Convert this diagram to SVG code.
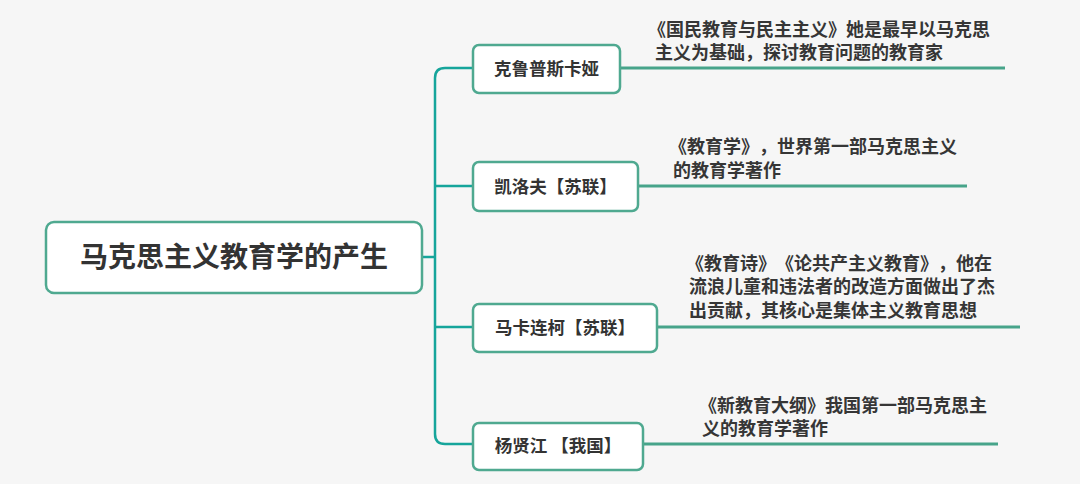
<svg xmlns="http://www.w3.org/2000/svg" width="1080" height="484" viewBox="0 0 1080 484">
<style>
.bg{fill:#f6f6f6}
.box{fill:#ffffff;stroke:#4fa990;stroke-width:2.5}
.trunk{fill:none;stroke:#16a59b;stroke-width:2.5}
.uline{fill:none;stroke:#47a48a;stroke-width:3}
text{text-spacing-trim:space-all}
.title{font-family:"Noto Sans CJK SC","Noto Sans",sans-serif;font-size:28px;font-weight:bold;fill:#333333}
.lbl{font-family:"Noto Sans CJK SC","Noto Sans",sans-serif;font-size:17.5px;font-weight:bold;fill:#333333}
.desc{font-family:"Noto Sans CJK SC","Noto Sans",sans-serif;font-size:18px;font-weight:bold;fill:#363636}
</style>
<rect class="bg" x="0" y="0" width="1080" height="484"/>
<g id="connectors">
<path class="trunk" d="M422,257 H435"/>
<path class="trunk" d="M473,68 H445 Q435,68 435,78 V434 Q435,444 445,444 H473"/>
<path class="trunk" d="M435,186 H473"/>
<path class="trunk" d="M435,327 H473"/>
<path class="uline" d="M620,68 H1005"/>
<path class="uline" d="M638,186 H967"/>
<path class="uline" d="M657,327 H1020"/>
<path class="uline" d="M643,444 H998"/>
</g>
<g id="root">
<rect class="box" x="46" y="222" width="376" height="71" rx="8"/>
<text class="title" x="234" y="267" text-anchor="middle">马克思主义教育学的产生</text>
</g>
<g id="n1">
<rect class="box" x="473" y="45" width="147" height="48" rx="6"/>
<text class="lbl" x="546.5" y="75" text-anchor="middle">克鲁普斯卡娅</text>
<text class="desc"><tspan x="648" y="36">《国民教育与民主主义》她是最早以马克思</tspan><tspan x="655" y="59">主义为基础，探讨教育问题的教育家</tspan></text>
</g>
<g id="n2">
<rect class="box" x="473" y="162" width="165" height="49" rx="6"/>
<text class="lbl" x="555.5" y="193" text-anchor="middle">凯洛夫【苏联】</text>
<text class="desc"><tspan x="669" y="153">《教育学》，世界第一部马克思主义</tspan><tspan x="673" y="177">的教育学著作</tspan></text>
</g>
<g id="n3">
<rect class="box" x="473" y="304" width="184" height="48" rx="6"/>
<text class="lbl" x="565" y="334" text-anchor="middle">马卡连柯【苏联】</text>
<text class="desc"><tspan x="686" y="270">《教育诗》《论共产主义教育》，他在</tspan><tspan x="689" y="293">流浪儿童和违法者的改造方面做出了杰</tspan><tspan x="689" y="317">出贡献，其核心是集体主义教育思想</tspan></text>
</g>
<g id="n4">
<rect class="box" x="473" y="423" width="170" height="47" rx="6"/>
<text class="lbl" x="558" y="452" text-anchor="middle">杨贤江 【我国】</text>
<text class="desc"><tspan x="699" y="412">《新教育大纲》我国第一部马克思主</tspan><tspan x="702" y="435">义的教育学著作</tspan></text>
</g>
</svg>
